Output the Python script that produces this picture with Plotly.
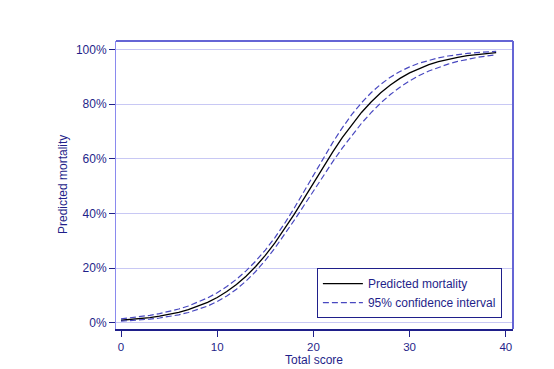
import plotly.graph_objects as go

score = list(range(0, 40))
predicted = [1.00, 1.26, 1.58, 1.99, 2.49, 3.13, 3.91, 4.88, 6.08, 7.54,
             9.33, 11.48, 14.06, 17.10, 20.66, 24.71, 29.27, 34.30, 39.70, 45.36,
             51.15, 56.91, 62.48, 67.74, 72.58, 76.97, 80.81, 84.16, 87.02, 89.44,
             91.42, 93.07, 94.43, 95.53, 96.42, 97.14, 97.72, 98.18, 98.55, 98.85]
ci_lower = [0.66, 0.85, 1.10, 1.41, 1.82, 2.33, 2.99, 3.82, 4.87, 6.19,
            7.84, 9.87, 12.35, 15.32, 18.83, 22.86, 27.39, 32.30, 37.50, 42.85,
            48.28, 53.64, 58.90, 63.92, 68.63, 72.99, 76.92, 80.44, 83.52, 86.20,
            88.50, 90.47, 92.12, 93.51, 94.66, 95.63, 96.42, 97.08, 97.61, 98.05]
ci_upper = [1.51, 1.86, 2.28, 2.79, 3.42, 4.18, 5.10, 6.22, 7.56, 9.16,
            11.08, 13.33, 15.98, 19.06, 22.60, 26.66, 31.24, 36.35, 41.95, 47.90,
            54.02, 60.11, 65.93, 71.34, 76.23, 80.50, 84.18, 87.28, 89.86, 91.95,
            93.65, 95.00, 96.09, 96.94, 97.62, 98.15, 98.56, 98.88, 99.13, 99.32]
x_ticks = [0, 10, 20, 30, 40]
y_ticks = [0, 20, 40, 60, 80, 100]
y_tick_labels = ["0%", "20%", "40%", "60%", "80%", "100%"]

navy = "#1f1f8a"
ci_color = "#4848c0"
font = dict(family="Liberation Sans, Arial, sans-serif", size=12, color=navy)

fig = go.Figure()
fig.add_trace(go.Scatter(x=score, y=predicted, mode="lines", name="Predicted mortality",
                         line=dict(color="black", width=1.3)))
fig.add_trace(go.Scatter(x=score, y=ci_lower, mode="lines", name="95% confidence interval",
                         line=dict(color=ci_color, width=1.2, dash="6px,3px")))
fig.add_trace(go.Scatter(x=score, y=ci_upper, mode="lines", showlegend=False,
                         line=dict(color=ci_color, width=1.2, dash="6px,3px")))

# plot region outline
fig.add_shape(type="line", xref="paper", yref="paper", x0=0, x1=1, y0=1, y1=1,
              line=dict(color="#6565d5", width=2))
fig.add_shape(type="line", xref="paper", yref="paper", x0=1, x1=1, y0=0, y1=1,
              line=dict(color="#6565d5", width=2))

# axis titles
fig.add_annotation(text="Total score", xref="paper", yref="paper", x=0.499, y=-0.108,
                   xanchor="center", yanchor="middle", showarrow=False, font=font)
fig.add_annotation(text="Predicted mortality", xref="paper", yref="paper", x=-0.1335, y=0.5,
                   xanchor="center", yanchor="middle", textangle=-90, showarrow=False, font=font)

fig.update_layout(
    width=554, height=369,
    margin=dict(l=116, r=41, t=41, b=40),
    paper_bgcolor="white", plot_bgcolor="white",
    font=font,
    showlegend=True,
    legend=dict(x=0.972, y=0.038, xanchor="right", yanchor="bottom",
                bordercolor=navy, borderwidth=1, bgcolor="white",
                font=dict(family="Liberation Sans, Arial, sans-serif", size=12, color=navy),
                tracegroupgap=0, itemwidth=40),
    xaxis=dict(range=[-0.52, 40.75], tickvals=x_ticks, showgrid=False, zeroline=False,
               showline=True, linecolor=navy, linewidth=1.5, ticks="outside", ticklen=6,
               tickcolor=navy, tickwidth=1.2, automargin=False,
               tickfont=dict(family="Liberation Sans, Arial, sans-serif", size=11.5, color=navy)),
    yaxis=dict(range=[-2.2, 103.1], tickvals=y_ticks, ticktext=y_tick_labels, showgrid=True,
               gridcolor="#c8c8f4", gridwidth=1.3, zeroline=False,
               showline=True, linecolor="#8a8aee", linewidth=1, ticks="outside", ticklen=6,
               tickcolor=navy, tickwidth=1.2, automargin=False),
)

fig.write_html("out.html", config={"displayModeBar": False},
               post_script="document.body.style.margin='0px';")
